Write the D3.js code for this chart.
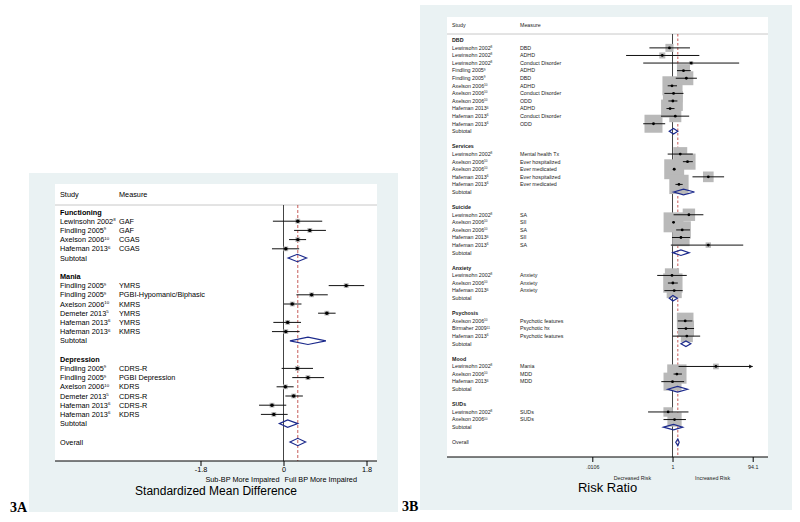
<!DOCTYPE html>
<html>
<head>
<meta charset="utf-8">
<script src="https://cdn.jsdelivr.net/npm/d3@7"></script>
<style>
  body { margin: 0; background: #fff; }
  svg text { font-family: "Liberation Sans", Arial, Helvetica, sans-serif; }
</style>
</head>
<body>
<div id="chart"></div>
<script>
// ---- 3A: standardized mean difference ----
var smdGroups = ["Functioning", "Mania", "Depression"];
var smdGroupOf = [0, 0, 0, 0, 1, 1, 1, 1, 1, 1, 2, 2, 2, 2, 2, 2];
var smdStudy = ["Lewinsohn 2002", "Findling 2005", "Axelson 2006", "Hafeman 2013",
  "Findling 2005", "Findling 2005", "Axelson 2006", "Demeter 2013", "Hafeman 2013", "Hafeman 2013",
  "Findling 2005", "Findling 2005", "Axelson 2006", "Demeter 2013", "Hafeman 2013", "Hafeman 2013"];
var smdRef = ["8", "9", "10", "6", "9", "9", "10", "5", "6", "6", "9", "9", "10", "5", "6", "6"];
var smdMeasure = ["GAF", "GAF", "CGAS", "CGAS",
  "YMRS", "PGBI-Hypomanic/Biphasic", "KMRS", "YMRS", "YMRS", "KMRS",
  "CDRS-R", "PGBI Depression", "KDRS", "CDRS-R", "CDRS-R", "KDRS"];
var smdEst = [0.31, 0.57, 0.31, 0.05, 1.36, 0.61, 0.19, 0.94, 0.09, 0.05, 0.30, 0.53, 0.04, 0.22, -0.25, -0.21];
var smdLo = [-0.23, 0.23, 0.12, -0.25, 0.98, 0.28, 0.01, 0.75, -0.22, -0.25, -0.04, 0.19, -0.15, 0.04, -0.53, -0.49];
var smdHi = [0.84, 0.92, 0.49, 0.34, 1.75, 0.96, 0.39, 1.13, 0.38, 0.35, 0.64, 0.88, 0.22, 0.42, 0.06, 0.09];
var smdSubEst = [0.30, 0.53, 0.09];
var smdSubLo = [0.10, 0.14, -0.09];
var smdSubHi = [0.50, 0.92, 0.31];
var smdOverall = [0.31, 0.14, 0.48];   // est, lo, hi
var smdTicks = [-1.8, 0, 1.8];
var smdTickLabels = ["-1.8", "0", "1.8"];

// ---- 3B: risk ratio ----
var rrGroups = ["DBD", "Services", "Suicide", "Anxiety", "Psychosis", "Mood", "SUDs"];
var rrGroupOf = [0, 0, 0, 0, 0, 0, 0, 0, 0, 0, 0, 1, 1, 1, 1, 1, 2, 2, 2, 2, 2, 3, 3, 3, 4, 4, 4, 5, 5, 5, 6, 6];
var rrStudy = ["Lewinsohn 2002", "Lewinsohn 2002", "Lewinsohn 2002", "Findling 2005", "Findling 2005",
  "Axelson 2006", "Axelson 2006", "Axelson 2006", "Hafeman 2013", "Hafeman 2013", "Hafeman 2013",
  "Lewinsohn 2002", "Axelson 2006", "Axelson 2006", "Hafeman 2013", "Hafeman 2013",
  "Lewinsohn 2002", "Axelson 2006", "Axelson 2006", "Hafeman 2013", "Hafeman 2013",
  "Lewinsohn 2002", "Axelson 2006", "Hafeman 2013",
  "Axelson 2006", "Birmaher 2009", "Hafeman 2013",
  "Lewinsohn 2002", "Axelson 2006", "Hafeman 2013",
  "Lewinsohn 2002", "Axelson 2006"];
var rrRef = ["8", "8", "8", "9", "9", "10", "10", "10", "6", "6", "6",
  "8", "10", "10", "6", "6", "8", "10", "10", "6", "6",
  "8", "10", "6", "10", "11", "6", "8", "10", "6", "8", "10"];
var rrMeasure = ["DBD", "ADHD", "Conduct Disorder", "ADHD", "DBD", "ADHD", "Conduct Disorder", "ODD", "ADHD", "Conduct Disorder", "ODD",
  "Mental health Tx", "Ever hospitalized", "Ever medicated", "Ever hospitalized", "Ever medicated",
  "SA", "SII", "SA", "SII", "SA",
  "Anxiety", "Anxiety", "Anxiety",
  "Psychotic features", "Psychotic hx", "Psychotic features",
  "Mania", "MDD", "MDD",
  "SUDs", "SUDs"];
var rrEst = [0.84, 0.56, 2.88, 1.86, 2.19, 0.97, 1.06, 1.02, 0.87, 1.17, 0.34,
  1.55, 2.34, 1.10, 7.6, 1.44,
  2.53, 1.06, 1.73, 1.61, 7.6,
  0.97, 1.02, 1.10,
  2.05, 2.14, 2.25,
  11.7, 1.28, 1.00,
  0.78, 1.12];
var rrLo = [0.27, 0.072, 0.19, 1.29, 1.20, 0.76, 0.63, 0.79, 0.71, 0.52, 0.19,
  0.76, 1.80, 1.02, 3.1, 1.18,
  1.06, 1.00, 1.23, 0.97, 0.91,
  0.42, 0.77, 0.63,
  1.35, 1.35, 1.00,
  1.41, 1.06, 0.53,
  0.25, 0.60];
var rrHi = [2.69, 4.57, 43.7, 2.82, 3.98, 1.29, 1.86, 1.32, 1.12, 2.57, 0.66,
  3.16, 3.16, 1.18, 18.6, 1.78,
  5.75, 1.12, 2.70, 2.70, 55.0,
  2.24, 1.35, 1.78,
  3.09, 3.39, 4.79,
  150, 1.70, 1.93,
  2.47, 2.14];
var rrWeight = [0.8, 0.45, 0.2, 2.1, 2.4, 4.5, 4.0, 4.9, 4.0, 1.8, 4.0,
  2.4, 3.2, 4.9, 1.4, 4.6,
  1.9, 4.9, 3.7, 3.7, 0.36,
  2.5, 4.6, 2.8,
  3.4, 3.2, 1.8,
  0.4, 4.6, 4.0,
  1.1, 2.5];
var rrSubEst = [1.06, 1.86, 1.61, 1.02, 2.14, 1.33, 1.06];
var rrSubLo = [0.83, 1.07, 1.02, 0.83, 1.61, 0.76, 0.60];
var rrSubHi = [1.35, 3.47, 2.57, 1.32, 2.82, 2.34, 1.78];
var rrOverall = [1.35, 1.20, 1.46];
var rrTicks = [0.0106, 1, 94.1];
var rrTickLabels = [".0106", "1", "94.1"];

var svg = d3.select("#chart")
  .append("svg")
  .attr("width", 800)
  .attr("height", 522);

// rows: group header, studies, subtotal, blank ... overall
function buildRows(groups, groupOf) {
  var rows = [], r = 0;
  groups.forEach(function (g, gi) {
    rows.push({ kind: "group", label: g, row: r++ });
    groupOf.forEach(function (gg, i) {
      if (gg === gi) rows.push({ kind: "study", i: i, row: r++ });
    });
    rows.push({ kind: "sub", g: gi, row: r++ });
    r++;
  });
  rows.push({ kind: "overall", row: r });
  return rows;
}

function diamond(x, y, est, lo, hi, h) {
  return "M" + x(lo) + "," + y + "L" + x(est) + "," + (y - h) +
    "L" + x(hi) + "," + y + "L" + x(est) + "," + (y + h) + "Z";
}

function drawForest(d, o) {
  var g = svg.append("g");
  var x = o.x;
  var xmin = x.domain()[0], xmax = x.domain()[1];
  var rows = buildRows(d.groups, d.groupOf);
  var y = function (r) { return o.rowY0 + r * o.rowStep; };

  // background + white plot region
  g.append("rect")
    .attr("x", o.bg[0]).attr("y", o.bg[1])
    .attr("width", o.bg[2] - o.bg[0]).attr("height", o.bg[3] - o.bg[1])
    .attr("fill", "#eaf2f3");
  g.append("rect")
    .attr("x", o.plot[0]).attr("y", o.plot[1])
    .attr("width", o.plot[2] - o.plot[0]).attr("height", o.plot[3] - o.plot[1])
    .attr("fill", "#fff");

  // header
  g.append("text").attr("x", o.studyX).attr("y", o.headerY)
    .attr("font-size", o.font).attr("fill", o.textColor).text("Study");
  g.append("text").attr("x", o.measureX).attr("y", o.headerY)
    .attr("font-size", o.font).attr("fill", o.textColor).text("Measure");
  g.append("line")
    .attr("x1", o.plot[0]).attr("x2", o.plot[2])
    .attr("y1", o.sepY).attr("y2", o.sepY)
    .attr("stroke", "#c8c8c8").attr("stroke-width", 1);

  // null line and overall dashed line
  g.append("line")
    .attr("x1", x(o.nullValue)).attr("x2", x(o.nullValue))
    .attr("y1", o.sepY).attr("y2", o.plot[3])
    .attr("stroke", "#444").attr("stroke-width", 1);
  g.append("line")
    .attr("x1", x(d.overall[0])).attr("x2", x(d.overall[0]))
    .attr("y1", o.sepY).attr("y2", o.plot[3])
    .attr("stroke", "#b8312f").attr("stroke-width", 0.8)
    .attr("stroke-dasharray", o.dash);

  var studyRows = rows.filter(function (r) { return r.kind === "study"; });

  // weight boxes
  g.selectAll(".box")
    .data(studyRows)
    .enter()
    .append("rect")
    .attr("class", "box")
    .attr("x", function (r) { return x(d.est[r.i]) - o.boxHalf(r.i); })
    .attr("y", function (r) { return y(r.row) - o.boxHalf(r.i); })
    .attr("width", function (r) { return 2 * o.boxHalf(r.i); })
    .attr("height", function (r) { return 2 * o.boxHalf(r.i); })
    .attr("fill", "#b9b9b9");

  // confidence intervals
  g.selectAll(".ci")
    .data(studyRows)
    .enter()
    .append("line")
    .attr("class", "ci")
    .attr("x1", function (r) { return x(Math.max(d.lo[r.i], xmin)); })
    .attr("x2", function (r) { return x(Math.min(d.hi[r.i], xmax)); })
    .attr("y1", function (r) { return y(r.row); })
    .attr("y2", function (r) { return y(r.row); })
    .attr("stroke", "#111")
    .attr("stroke-width", o.ciWidth);

  // arrows where the interval runs off the scale
  g.selectAll(".arrow")
    .data(studyRows.filter(function (r) { return d.hi[r.i] > xmax; }))
    .enter()
    .append("path")
    .attr("class", "arrow")
    .attr("d", function (r) {
      var xx = x(xmax), yy = y(r.row);
      return "M" + xx + "," + yy + "L" + (xx - 3.5) + "," + (yy - 2) + "L" + (xx - 3.5) + "," + (yy + 2) + "Z";
    })
    .attr("fill", "#111");

  // point estimates
  g.selectAll(".pt")
    .data(studyRows)
    .enter()
    .append("circle")
    .attr("class", "pt")
    .attr("cx", function (r) { return x(d.est[r.i]); })
    .attr("cy", function (r) { return y(r.row); })
    .attr("r", o.pointR)
    .attr("fill", "#000");

  // subtotal and overall diamonds
  rows.forEach(function (r) {
    if (r.kind === "sub") {
      g.append("path")
        .attr("d", diamond(x, y(r.row), d.subEst[r.g], d.subLo[r.g], d.subHi[r.g], o.diamondH))
        .attr("fill", "none").attr("stroke", "#1c2a8c").attr("stroke-width", 1.2);
    } else if (r.kind === "overall") {
      g.append("path")
        .attr("d", diamond(x, y(r.row), d.overall[0], d.overall[1], d.overall[2], o.overallH))
        .attr("fill", "none").attr("stroke", "#1c2a8c").attr("stroke-width", 1.2);
    }
  });

  // row labels
  rows.forEach(function (r) {
    var yy = y(r.row);
    if (r.kind === "group") {
      g.append("text").attr("x", o.studyX).attr("y", yy).attr("dy", "0.35em")
        .attr("font-size", o.font).attr("font-weight", "bold").attr("fill", o.textColor)
        .text(r.label);
    } else if (r.kind === "study") {
      var t = g.append("text").attr("x", o.studyX).attr("y", yy).attr("dy", "0.35em")
        .attr("font-size", o.font).attr("fill", o.textColor);
      t.append("tspan").text(d.study[r.i]);
      t.append("tspan").attr("font-size", o.font * 0.6).attr("dy", -o.font * 0.35).text(d.ref[r.i]);
      g.append("text").attr("x", o.measureX).attr("y", yy).attr("dy", "0.35em")
        .attr("font-size", o.font).attr("fill", o.textColor)
        .text(d.measure[r.i]);
    } else if (r.kind === "sub" || r.kind === "overall") {
      g.append("text").attr("x", o.studyX).attr("y", yy).attr("dy", "0.35em")
        .attr("font-size", o.font).attr("fill", o.textColor)
        .text(r.kind === "sub" ? "Subtotal" : "Overall");
    }
  });

  // x axis
  g.append("line")
    .attr("x1", o.plot[0]).attr("x2", o.plot[2])
    .attr("y1", o.plot[3]).attr("y2", o.plot[3])
    .attr("stroke", "#000").attr("stroke-width", 1);
  var ax = g.append("g")
    .attr("transform", "translate(0," + o.plot[3] + ")")
    .call(d3.axisBottom(x)
      .tickValues(d.ticks)
      .tickSize(5)
      .tickPadding(o.tickPad)
      .tickFormat(function (v, i) { return d.tickLabels[i]; }));
  ax.select(".domain").remove();
  ax.selectAll("line").attr("stroke", "#000");
  ax.selectAll("text")
    .attr("font-size", o.font)
    .attr("fill", o.textColor)
    .style("font-family", "'Liberation Sans', Arial, sans-serif");

  // favours labels
  o.favours(g, x);

  // axis title and panel label
  g.append("text")
    .attr("x", (o.plot[0] + o.plot[2]) / 2).attr("y", o.titleY)
    .attr("text-anchor", "middle").attr("font-size", o.titleSize).attr("fill", "#000")
    .text(o.title);
  g.append("text")
    .attr("x", o.panelX).attr("y", o.panelY)
    .attr("font-size", 14).attr("font-weight", "bold")
    .style("font-family", "'Liberation Serif', 'Times New Roman', serif")
    .text(o.panel);
}

drawForest({
  groups: smdGroups, groupOf: smdGroupOf, study: smdStudy, ref: smdRef, measure: smdMeasure,
  est: smdEst, lo: smdLo, hi: smdHi,
  subEst: smdSubEst, subLo: smdSubLo, subHi: smdSubHi, overall: smdOverall,
  ticks: smdTicks, tickLabels: smdTickLabels
}, {
  bg: [29, 173, 398, 512], plot: [55, 184, 377, 461],
  headerY: 197, sepY: 205, rowY0: 212, rowStep: 9.2,
  studyX: 60, measureX: 119, font: 7.3, textColor: "#000",
  x: d3.scaleLinear().domain([-1.8, 1.8]).range([200.5, 366.5]),
  nullValue: 0, dash: "3,2",
  boxHalf: function () { return 2.4; },
  ciWidth: 1, pointR: 1.7, diamondH: 3.7, overallH: 3.7, tickPad: 1,
  favours: function (g, x) {
    g.append("text").attr("x", x(0) - 4).attr("y", 482.3)
      .attr("text-anchor", "end").attr("font-size", 7.3).text("Sub-BP More Impaired");
    g.append("text").attr("x", x(0) + 1).attr("y", 482.3)
      .attr("font-size", 7.3).text("Full BP More Impaired");
  },
  title: "Standardized Mean Difference", titleY: 495, titleSize: 12,
  panel: "3A", panelX: 10, panelY: 512
});

var wSize = d3.scaleSqrt().domain([0, 1]).range([0, 4.5]);

drawForest({
  groups: rrGroups, groupOf: rrGroupOf, study: rrStudy, ref: rrRef, measure: rrMeasure,
  est: rrEst, lo: rrLo, hi: rrHi,
  subEst: rrSubEst, subLo: rrSubLo, subHi: rrSubHi, overall: rrOverall,
  ticks: rrTicks, tickLabels: rrTickLabels
}, {
  bg: [420, 5, 792, 510], plot: [447, 17, 768, 457],
  headerY: 27, sepY: 34, rowY0: 40.3, rowStep: 7.585,
  studyX: 452, measureX: 520, font: 5.3, textColor: "#222",
  x: d3.scaleLog().domain([0.0106, 94.1]).range([592.3, 752.7]),
  nullValue: 1, dash: "2.5,2",
  boxHalf: function (i) { return wSize(rrWeight[i]); },
  ciWidth: 1, pointR: 1.4, diamondH: 2.8, overallH: 3.3, tickPad: 3,
  favours: function (g, x) {
    var x0 = x(rrTicks[0]), x1 = x(1), x2 = x(rrTicks[2]);
    g.append("text").attr("x", (x0 + x1) / 2).attr("y", 480)
      .attr("text-anchor", "middle").attr("font-size", 5.3).attr("fill", "#222").text("Decreased Risk");
    g.append("text").attr("x", (x1 + x2) / 2).attr("y", 480)
      .attr("text-anchor", "middle").attr("font-size", 5.3).attr("fill", "#222").text("Increased Risk");
  },
  title: "Risk Ratio", titleY: 491.7, titleSize: 13,
  panel: "3B", panelX: 402, panelY: 511
});
</script>
</body>
</html>
